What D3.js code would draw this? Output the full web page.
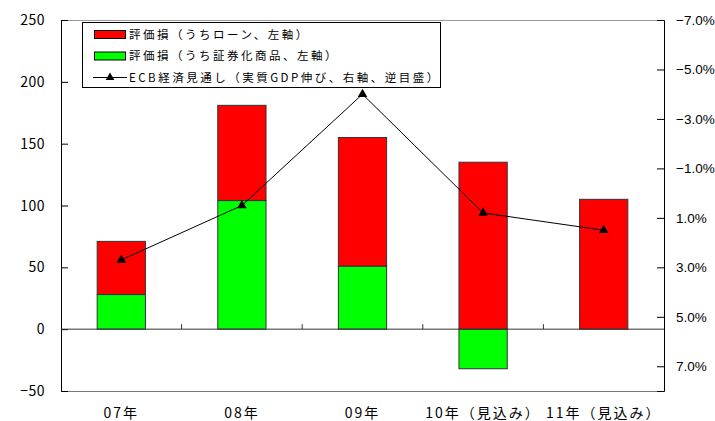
<!DOCTYPE html>
<html lang="ja">
<head>
<meta charset="utf-8">
<title>評価損とECB経済見通し</title>
<script src="https://cdn.jsdelivr.net/npm/d3@7"></script>
<style>
  body { margin: 0; background: #fff; }
  svg text { font-family: "Noto Sans CJK JP", "Noto Sans", sans-serif; fill: #000; }
  .tick-label { font-size: 14px; letter-spacing: 0.5px; }
  .tick-label.right { font-family: "Liberation Sans", Arial, sans-serif; font-size: 13.5px; letter-spacing: 0; }
  .cat-label { font-size: 14px; letter-spacing: 2px; }
  .legend text { font-size: 11.5px; letter-spacing: 2.5px; }
</style>
</head>
<body>
<div id="chart"></div>
<script>

// data
var categories = ['07年', '08年', '09年', '10年（見込み）', '11年（見込み）'];
var loanLoss   = [43, 77, 104, 135, 105];   // 評価損(うちローン)
var secLoss    = [28, 104, 51, -32, 0];     // 評価損(うち証券化商品)
var gdpGrowth  = [2.7, 0.5, -4.0, 0.8, 1.5]; // ECB見通し, %
var leftTicks  = [-50, 0, 50, 100, 150, 200, 250];
var rightTicks = [-7, -5, -3, -1, 1, 3, 5, 7];
var legendLabels = [
  '評価損（うちローン、左軸）',
  '評価損（うち証券化商品、左軸）',
  'ECB経済見通し（実質GDP伸び、右軸、逆目盛）'
];

var width = 715, height = 421;
var plot = { left: 61, right: 664, top: 20, bottom: 391 };

var svg = d3.select('#chart').append('svg')
    .attr('width', width)
    .attr('height', height);

/* Scales */

var x = d3.scaleBand()
    .domain(categories)
    .range([plot.left, plot.right])
    .paddingInner(0.6)
    .paddingOuter(0.3);

var yLeft = d3.scaleLinear()
    .domain([-50, 250])
    .range([plot.bottom, plot.top]);

// reversed scale for GDP growth
var yRight = d3.scaleLinear()
    .domain([-7, 8])
    .range([plot.top, plot.bottom]);

/* Frame */

svg.append('line')
    .attr('x1', plot.left).attr('x2', plot.right)
    .attr('y1', plot.top + 0.5).attr('y2', plot.top + 0.5)
    .attr('stroke', '#999');
svg.append('line')
    .attr('x1', plot.left).attr('x2', plot.right)
    .attr('y1', plot.bottom + 0.5).attr('y2', plot.bottom + 0.5)
    .attr('stroke', '#777');

/* Bars */

var rows = categories.map(function(c, i) {
  return { cat: c, sec: secLoss[i], loan: loanLoss[i] };
});

var bars = svg.append('g').attr('class', 'bars');

// securitised products (from zero)
bars.selectAll('.sec')
  .data(rows.filter(function(d) { return d.sec !== 0; }))
  .enter().append('rect')
    .attr('class', 'sec')
    .attr('x', function(d) { return x(d.cat); })
    .attr('width', x.bandwidth())
    .attr('y', function(d) { return yLeft(Math.max(0, d.sec)); })
    .attr('height', function(d) { return Math.abs(yLeft(d.sec) - yLeft(0)); })
    .attr('fill', '#00ff00')
    .attr('stroke', '#333')
    .attr('stroke-width', 1);

// loans stacked on top of positive securitised part
bars.selectAll('.loan')
  .data(rows)
  .enter().append('rect')
    .attr('class', 'loan')
    .attr('x', function(d) { return x(d.cat); })
    .attr('width', x.bandwidth())
    .attr('y', function(d) { return yLeft(Math.max(0, d.sec) + d.loan); })
    .attr('height', function(d) { return yLeft(Math.max(0, d.sec)) - yLeft(Math.max(0, d.sec) + d.loan); })
    .attr('fill', '#ff0000')
    .attr('stroke', '#333')
    .attr('stroke-width', 1);

/* Axes */

// left axis
var leftAxis = svg.append('g')
    .attr('transform', 'translate(' + plot.left + ',0)')
    .call(d3.axisRight(yLeft).tickValues(leftTicks).tickSize(7).tickFormat(''));
leftAxis.select('.domain').attr('stroke', '#000');

svg.append('g').selectAll('text')
  .data(leftTicks)
  .enter().append('text')
    .attr('class', 'tick-label')
    .attr('x', 45)
    .attr('y', function(d) { return yLeft(d); })
    .attr('dy', '0.36em')
    .attr('text-anchor', 'end')
    .text(function(d) { return d < 0 ? '−' + Math.abs(d) : d; });

// right axis
var rightAxis = svg.append('g')
    .attr('transform', 'translate(' + plot.right + ',0)')
    .call(d3.axisLeft(yRight).tickValues(rightTicks).tickSize(7).tickFormat(''));
rightAxis.select('.domain').attr('stroke', '#000');

svg.append('g').selectAll('text')
  .data(rightTicks)
  .enter().append('text')
    .attr('class', 'tick-label right')
    .attr('x', 676)
    .attr('y', function(d) { return yRight(d); })
    .attr('dy', '0.36em')
    .text(function(d) { return (d < 0 ? '−' : '') + Math.abs(d).toFixed(1) + '%'; });

// category axis along zero
svg.append('line')
    .attr('x1', plot.left).attr('x2', plot.right)
    .attr('y1', yLeft(0)).attr('y2', yLeft(0))
    .attr('stroke', '#333');

// small ticks between categories
svg.append('g').selectAll('line')
  .data(categories.slice(1))
  .enter().append('line')
    .attr('x1', function(d) { return x(d) - x.step() * x.paddingInner() / 2; })
    .attr('x2', function(d) { return x(d) - x.step() * x.paddingInner() / 2; })
    .attr('y1', yLeft(0))
    .attr('y2', yLeft(0) - 5)
    .attr('stroke', '#333');

svg.append('g').selectAll('text')
  .data(categories)
  .enter().append('text')
    .attr('class', 'cat-label')
    .attr('x', function(d) { return x(d) + x.bandwidth() / 2; })
    .attr('y', 418)
    .attr('text-anchor', 'middle')
    .text(function(d) { return d; });

/* GDP line */

var line = d3.line()
    .x(function(d, i) { return x(categories[i]) + x.bandwidth() / 2; })
    .y(function(d) { return yRight(d); });

svg.append('path')
    .datum(gdpGrowth)
    .attr('d', line)
    .attr('fill', 'none')
    .attr('stroke', '#000')
    .attr('stroke-width', 1);

svg.append('g').selectAll('path')
  .data(gdpGrowth)
  .enter().append('path')
    .attr('d', d3.symbol().type(d3.symbolTriangle).size(40))
    .attr('transform', function(d, i) {
      return 'translate(' + (x(categories[i]) + x.bandwidth() / 2) + ',' + yRight(d) + ')';
    })
    .attr('fill', '#000');

/* Legend */

var legend = svg.append('g').attr('class', 'legend');

legend.append('rect')
    .attr('x', 82.5).attr('y', 22.5)
    .attr('width', 358).attr('height', 65)
    .attr('fill', '#fff')
    .attr('stroke', '#000');

var rowY = [34.5, 56, 77.5];

legend.append('rect')
    .attr('x', 94.5).attr('y', rowY[0] - 4)
    .attr('width', 31).attr('height', 8)
    .attr('fill', '#ff0000').attr('stroke', '#000');

legend.append('rect')
    .attr('x', 94.5).attr('y', rowY[1] - 4)
    .attr('width', 31).attr('height', 8)
    .attr('fill', '#00ff00').attr('stroke', '#000');

legend.append('line')
    .attr('x1', 93).attr('x2', 127)
    .attr('y1', rowY[2]).attr('y2', rowY[2])
    .attr('stroke', '#000');

legend.append('path')
    .attr('d', d3.symbol().type(d3.symbolTriangle).size(32))
    .attr('transform', 'translate(110,' + rowY[2] + ')')
    .attr('fill', '#000');

legend.selectAll('text')
  .data(legendLabels)
  .enter().append('text')
    .attr('x', 129)
    .attr('y', function(d, i) { return rowY[i]; })
    .attr('dy', '0.36em')
    .text(function(d) { return d; });

</script>
</body>
</html>
